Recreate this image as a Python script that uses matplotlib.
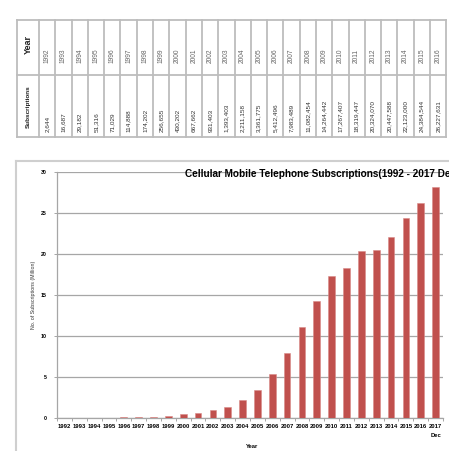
import matplotlib
matplotlib.use('Agg')
import matplotlib.pyplot as plt
import numpy as np

# table data (1992 - 2016)
years = list(range(1992, 2017))
subscriptions = [2644, 16687, 29182, 51316, 71029, 114888, 174202, 256655,
                 430202, 667662, 931403, 1393403, 2211158, 3361775, 5412496,
                 7983489, 11082454, 14264442, 17267407, 18319447, 20324070,
                 20447588, 22123000, 24384544, 26227631]
# chart adds the latest month
extra_label = '2017\nDec'
extra_value = 28.2

bar_labels = [str(y) for y in years] + [extra_label]
bar_values = [s / 1e6 for s in subscriptions] + [extra_value]

bar_color = '#C0504D'
grid_color = '#A6A6A6'
frame_color = '#CFCFCF'
font = 'Liberation Sans'

fig = plt.figure(figsize=(4.49, 4.51), dpi=100)

# ---- table on top (pixel coordinate overlay) ----
tax = fig.add_axes([0, 0, 1, 1])
tax.set_xlim(0, 449)
tax.set_ylim(451, 0)
tax.axis('off')

left, head_w = 17, 22
col_w = (430 - 39) / 24
top, mid, bot = 20, 75, 137
edges = [left, left + head_w] + [left + head_w + col_w * (i + 1) for i in range(len(years))]
for x in edges:
    tax.plot([x, x], [top, bot], color='#BDBDBD', lw=1.3)
for y in (top, mid, bot):
    tax.plot([left, edges[-1]], [y, y], color='#BDBDBD', lw=1.3)

tax.text(left + head_w / 2, 44, 'Year', rotation=90, ha='center', va='center',
         fontsize=6.5, fontweight='bold', family=font, color='#222222')
tax.text(left + head_w / 2, 107, 'Subscriptions', rotation=90, ha='center', va='center',
         fontsize=4.6, fontweight='bold', family=font, color='#222222')
for i, (yr, s) in enumerate(zip(years, subscriptions)):
    cx = left + head_w + col_w * (i + 0.5)
    tax.text(cx, mid - 12, str(yr), rotation=90, ha='center', va='bottom',
             fontsize=4.8, family=font, color='#666666')
    tax.text(cx, bot - 5, '{:,}'.format(s), rotation=90, ha='center', va='bottom',
             fontsize=4.6, family=font, color='#333333')

# chart frame
tax.plot([16, 16], [161, 451], color=frame_color, lw=1.5)
tax.plot([16, 449], [161, 161], color=frame_color, lw=1.5)

# ---- bar chart ----
ax = fig.add_axes([57 / 449, 1 - 418 / 451, (443 - 57) / 449, (418 - 172) / 451])
x = np.arange(len(bar_values))
ax.bar(x, bar_values, width=0.45, color=bar_color, edgecolor='#D88A88', linewidth=0.4, zorder=3)
ax.set_xlim(-0.5, len(bar_values) - 0.5)
ax.set_ylim(0, 30)
ax.set_yticks(range(0, 31, 5))
ax.set_yticklabels([str(v) for v in range(0, 31, 5)], fontsize=3.8, fontweight='bold', family=font)
ax.set_xticks(x)
ax.set_xticklabels(bar_labels, fontsize=4.2, fontweight='bold', family=font, linespacing=2.0)
ax.set_xticks(np.arange(-0.5, len(bar_values)), minor=True)
ax.tick_params(axis='x', which='major', length=0, pad=4)
ax.tick_params(axis='x', which='minor', length=2, color=grid_color, width=0.7)
ax.tick_params(axis='y', length=2.5, color=grid_color, width=0.7, pad=5)
for lbl in ax.get_xticklabels():
    lbl.set_va('top')
ax.grid(axis='y', color=grid_color, lw=0.9, zorder=0)
for side in ('top', 'right'):
    ax.spines[side].set_visible(False)
for side in ('left', 'bottom'):
    ax.spines[side].set_color(grid_color)
    ax.spines[side].set_linewidth(0.9)

ax.set_ylabel('No. of Subscriptions (Million)', fontsize=3.8, family=font, labelpad=3, color='#333333')
# title runs past the right edge, as in the original
fig.text(185 / 449, 1 - 174 / 451, 'Cellular Mobile Telephone Subscriptions(1992 - 2017 Dec)',
         fontsize=7.2, fontweight='bold', family=font, va='center', ha='left')
fig.text(252 / 449, 1 - 446 / 451, 'Year', fontsize=4.2, fontweight='bold', family=font, ha='center', va='center')

fig.savefig('out.png', dpi=100)
